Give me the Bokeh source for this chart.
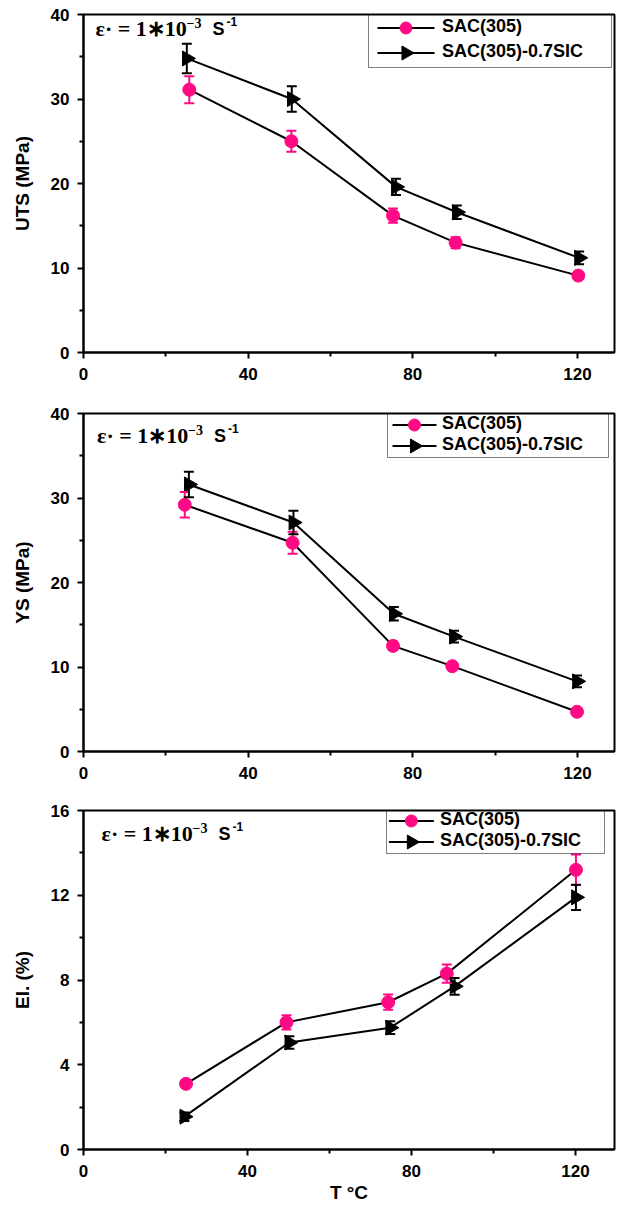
import math
from bokeh.plotting import figure
from bokeh.layouts import column
from bokeh.models import (Range1d, FixedTicker, Whisker, TeeHead, ColumnDataSource,
                          Legend, LegendItem, Label)
from bokeh.embed import file_html
from bokeh.resources import INLINE

PINK = "#FF0A84"

# ---------------- data ----------------
x_ticks = [0, 40, 80, 120]
x_minor = [20, 60, 100]

# UTS (MPa)
uts_T_sac = [25.7, 50.5, 75.2, 90.4, 120.2]
uts_sac = [31.1, 25.0, 16.2, 13.0, 9.1]
uts_sac_err = [1.6, 1.25, 0.85, 0.65, 0.3]
uts_T_sic = [25.1, 50.6, 75.9, 90.7, 120.4]
uts_sic = [34.8, 30.0, 19.6, 16.6, 11.2]
uts_sic_err = [1.75, 1.5, 0.95, 0.8, 0.75]
uts_ticks = [0, 10, 20, 30, 40]
uts_minor = [5, 15, 25, 35]

# YS (MPa)
ys_T_sac = [24.6, 50.8, 75.2, 89.6, 119.9]
ys_sac = [29.2, 24.7, 12.5, 10.1, 4.7]
ys_sac_err = [1.5, 1.3, 0.5, 0.3, 0.2]
ys_T_sic = [25.6, 51.0, 75.4, 90.0, 119.9]
ys_sic = [31.6, 27.1, 16.3, 13.6, 8.3]
ys_sic_err = [1.5, 1.4, 0.8, 0.7, 0.7]
ys_ticks = [0, 10, 20, 30, 40]
ys_minor = [5, 15, 25, 35]

# Elongation (%)
el_T_sac = [25.0, 49.5, 74.3, 88.6, 120.1]
el_sac = [3.1, 6.0, 6.95, 8.3, 13.2]
el_sac_err = [0.1, 0.34, 0.36, 0.43, 0.72]
el_T_sic = [24.6, 50.2, 74.8, 90.5, 120.1]
el_sic = [1.55, 5.05, 5.75, 7.7, 11.9]
el_sic_err = [0.2, 0.3, 0.3, 0.4, 0.6]
el_ticks = [0, 4, 8, 12, 16]
el_minor = [2, 6, 10, 14]

series_names = ["SAC(305)", "SAC(305)-0.7SIC"]

SANS = "Liberation Sans"
SERIF = "Liberation Serif"
W = 617
RIGHT = 3


def make_panel(height, left, top, bottom, xmax, yticks, yminor, ylabel,
               T1, y1, e1, T2, y2, e2, leg, keyx, ann, xlabel=None):
    ymax = yticks[-1]
    p = figure(width=W, height=height, x_range=Range1d(0, xmax), y_range=Range1d(0, ymax),
               output_backend="svg", toolbar_location=None,
               min_border_left=left, min_border_right=RIGHT, min_border_top=top,
               min_border_bottom=bottom)
    fw = W - left - RIGHT
    fh = height - top - bottom
    kx = xmax / fw   # data units per pixel
    ky = ymax / fh
    p.background_fill_color = "white"
    p.border_fill_color = "white"
    p.grid.visible = False
    p.outline_line_color = "black"
    p.outline_line_width = 2
    p.outline_line_alpha = 1

    p.xaxis.ticker = FixedTicker(ticks=x_ticks, minor_ticks=x_minor)
    p.yaxis.ticker = FixedTicker(ticks=yticks, minor_ticks=yminor)
    for ax in (p.xaxis, p.yaxis):
        ax.axis_line_width = 2
        ax.major_tick_line_width = 2
        ax.minor_tick_line_width = 2
        ax.major_tick_in = 0
        ax.major_tick_out = 6
        ax.minor_tick_in = 0
        ax.minor_tick_out = 4
        ax.major_label_text_font = SANS
        ax.major_label_text_font_style = "bold"
        ax.major_label_text_font_size = "17px"
        ax.major_label_text_color = "black"
        ax.axis_label_text_font = SANS
        ax.axis_label_text_font_style = "bold"
        ax.axis_label_text_font_size = "19px"
        ax.axis_label_text_color = "black"
    p.yaxis.major_label_standoff = 8
    p.xaxis.major_label_standoff = 9
    p.yaxis.axis_label = ylabel
    p.yaxis.axis_label_standoff = 15
    if xlabel:
        p.xaxis.axis_label = xlabel
        p.xaxis.axis_label_standoff = 2

    # connecting lines
    p.line(T1, y1, line_color="black", line_width=2)
    p.line(T2, y2, line_color="black", line_width=2)

    # error bars
    s1 = ColumnDataSource(dict(x=T1, up=[a + b for a, b in zip(y1, e1)], lo=[a - b for a, b in zip(y1, e1)]))
    s2 = ColumnDataSource(dict(x=T2, up=[a + b for a, b in zip(y2, e2)], lo=[a - b for a, b in zip(y2, e2)]))
    for src, col in ((s1, PINK), (s2, "black")):
        w = Whisker(base="x", upper="up", lower="lo", source=src, line_color=col, line_width=2,
                    upper_head=TeeHead(size=10, line_color=col, line_width=2),
                    lower_head=TeeHead(size=10, line_color=col, line_width=2), level="glyph")
        p.add_layout(w)

    p.scatter(T1, y1, marker="circle", size=13, fill_color=PINK, line_color=PINK)
    p.scatter(T2, y2, marker="triangle", size=15, angle=-math.pi / 2,
              fill_color="black", line_color="black")

    # legend: box and labels from Legend (transparent), keys drawn beneath as glyphs
    lx, ly, gw, gh, spacing, pad, stand, lw = leg
    d1 = p.line([], [], line_alpha=0)
    d2 = p.line([], [], line_alpha=0)
    legend = Legend(items=[LegendItem(label=series_names[0], renderers=[d1]),
                           LegendItem(label=series_names[1], renderers=[d2])],
                    location=(lx, ly), glyph_width=gw, glyph_height=gh, label_height=gh,
                    spacing=spacing, padding=pad, margin=0, label_width=lw, label_standoff=stand,
                    label_text_font=SANS, label_text_font_style="bold", label_text_font_size="18px",
                    label_text_color="black", border_line_color="black", border_line_width=1.5,
                    background_fill_alpha=0)
    p.add_layout(legend)

    k0, k1 = keyx
    x0 = k0 * kx
    x1 = k1 * kx
    cx = (k0 + k1) / 2.0 * kx
    cy1 = (ly + pad + gh + spacing + gh / 2.0) * ky
    cy2 = (ly + pad + gh / 2.0) * ky
    p.line([x0, x1], [cy1, cy1], line_color="black", line_width=2)
    p.line([x0, x1], [cy2, cy2], line_color="black", line_width=2)
    p.scatter([cx], [cy1], marker="circle", size=12, fill_color=PINK, line_color=PINK)
    p.scatter([cx], [cy2], marker="triangle", size=14, angle=-math.pi / 2,
              fill_color="black", line_color="black")

    ex, ey = ann  # epsilon left edge from frame-left, text centre from frame-top
    yc = fh - ey
    parts = [
        ("ε· = 1∗10", 0, 0, SERIF, "22px"),
        ("−3", 91, 6, SERIF, "14px"),
        ("S", 117, 0, SANS, "18px"),
        ("-1", 131, 7, SANS, "12px"),
    ]
    for txt, dx, dy, font, fs in parts:
        p.add_layout(Label(x=ex + dx, y=yc + dy, x_units="screen", y_units="screen", text=txt,
                           text_font=font, text_font_style="bold", text_font_size=fs,
                           text_baseline="middle", text_align="left", text_color="black"))
    return p


p1 = make_panel(400, 83, 14, 48, 129.0, uts_ticks, uts_minor, "UTS (MPa)",
                uts_T_sac, uts_sac, uts_sac_err, uts_T_sic, uts_sic, uts_sic_err,
                (285, 284, 60, 23, 2, 4, 9, 165), (294, 351), (12, 14))
p2 = make_panel(400, 83, 13, 49, 129.0, ys_ticks, ys_minor, "YS (MPa)",
                ys_T_sac, ys_sac, ys_sac_err, ys_T_sic, ys_sic, ys_sic_err,
                (304, 293, 47, 21, 0, 2, 5, 164), (309, 353), (13.5, 22))
p3 = make_panel(405, 82, 10, 56, 129.5, el_ticks, el_minor, "El. (%)",
                el_T_sac, el_sac, el_sac_err, el_T_sic, el_sic, el_sic_err,
                (303, 295, 46, 21, 0, 2, 5, 162), (306, 351), (18, 23), xlabel="T °C")

layout = column(p1, p2, p3, spacing=0)
open("out.html", "w").write(file_html(layout, INLINE))
